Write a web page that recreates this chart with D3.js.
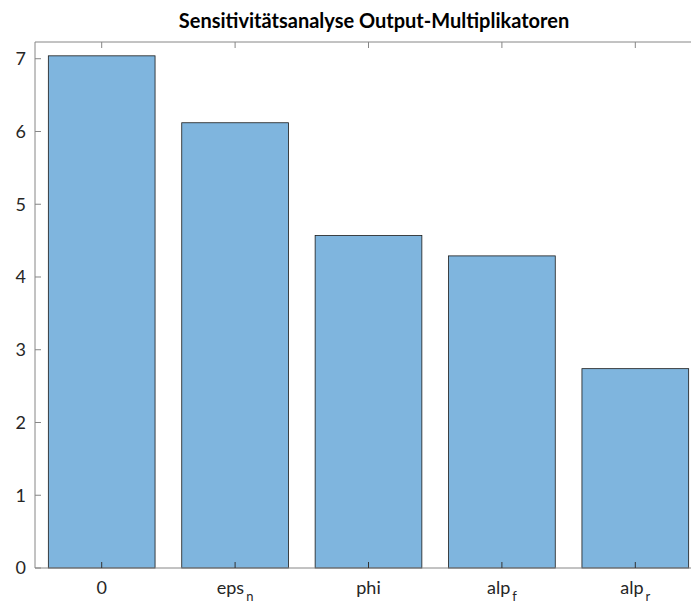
<!DOCTYPE html>
<html>
<head>
<meta charset="utf-8">
<script src="https://cdn.jsdelivr.net/npm/d3@7"></script>
<style>
  body { margin: 0; background: #fff; }
  svg text { font-family: Lato, "Open Sans", sans-serif; fill: #262626; }
</style>
</head>
<body>
<svg id="chart" width="691" height="603"></svg>
<script>
(function (d3) {
    'use strict';

    var labels = ['0', 'eps', 'phi', 'alp', 'alp'],
    subs = ['', 'n', '', 'f', 'r'],
    values = [7.04, 6.12, 4.57, 4.29, 2.74],
    yTicks = [0, 1, 2, 3, 4, 5, 6, 7];

    var left = 35, top = 42, right = 702, bottom = 568;

    var svg = d3.select('#chart');

    var x = d3.scaleBand()
        .domain(d3.range(labels.length))
        .range([left, right])
        .paddingInner(0.2)
        .paddingOuter(0.1);

    var y = d3.scaleLinear().domain([0, 7.23]).range([bottom, top]);

    // bars
    svg.selectAll('.bar')
        .data(values)
        .enter()
        .append('rect')
        .attr('class', 'bar')
        .attr('x', function (d, i) { return x(i); })
        .attr('y', function (d) { return y(d); })
        .attr('width', x.bandwidth())
        .attr('height', function (d) { return y(0) - y(d); })
        .style('fill', '#7fb5de')
        .style('stroke', '#1a1a1a')
        .style('stroke-width', 0.8);

    // box lines
    var axisColor = '#868686';
    svg.append('line').attr('x1', left).attr('x2', right).attr('y1', top).attr('y2', top)
        .style('stroke', axisColor);
    svg.append('line').attr('x1', left).attr('x2', right).attr('y1', bottom).attr('y2', bottom)
        .style('stroke', axisColor);
    svg.append('line').attr('x1', left).attr('x2', left).attr('y1', top).attr('y2', bottom)
        .style('stroke', axisColor);

    // y ticks
    var yt = svg.selectAll('.ytick').data(yTicks).enter().append('g')
        .attr('transform', function (d) { return 'translate(0,' + y(d) + ')'; });
    yt.append('line').attr('x1', left).attr('x2', left + 6)
        .style('stroke', axisColor);
    yt.append('text')
        .attr('x', left - 9)
        .attr('dy', '0.36em')
        .attr('text-anchor', 'end')
        .style('font-size', '18px')
        .text(function (d) { return d; });

    // x ticks (bottom and top, inward)
    var centers = d3.range(labels.length).map(function (i) { return x(i) + x.bandwidth() / 2; });
    svg.selectAll('.xtickb').data(centers).enter().append('line')
        .attr('x1', function (d) { return d; }).attr('x2', function (d) { return d; })
        .attr('y1', bottom).attr('y2', bottom - 6)
        .style('stroke', '#333');
    svg.selectAll('.xtickt').data(centers).enter().append('line')
        .attr('x1', function (d) { return d; }).attr('x2', function (d) { return d; })
        .attr('y1', top).attr('y2', top + 6)
        .style('stroke', axisColor);

    // x labels with subscripts
    var xl = svg.selectAll('.xlabel').data(labels).enter().append('text')
        .attr('x', function (d, i) { return centers[i]; })
        .attr('y', 594)
        .attr('text-anchor', 'middle')
        .style('font-size', '18px');
    xl.append('tspan').text(function (d) { return d; });
    xl.append('tspan')
        .attr('dx', 2)
        .attr('dy', 7)
        .style('font-size', '13px')
        .text(function (d, i) { return subs[i]; });

    // title
    svg.append('text')
        .attr('x', 374)
        .attr('y', 28)
        .attr('text-anchor', 'middle')
        .style('font-size', '20px')
        .style('font-weight', 'bold')
        .style('fill', '#000')
        .text('Sensitivitätsanalyse Output-Multiplikatoren');
})(d3);
</script>
</body>
</html>
